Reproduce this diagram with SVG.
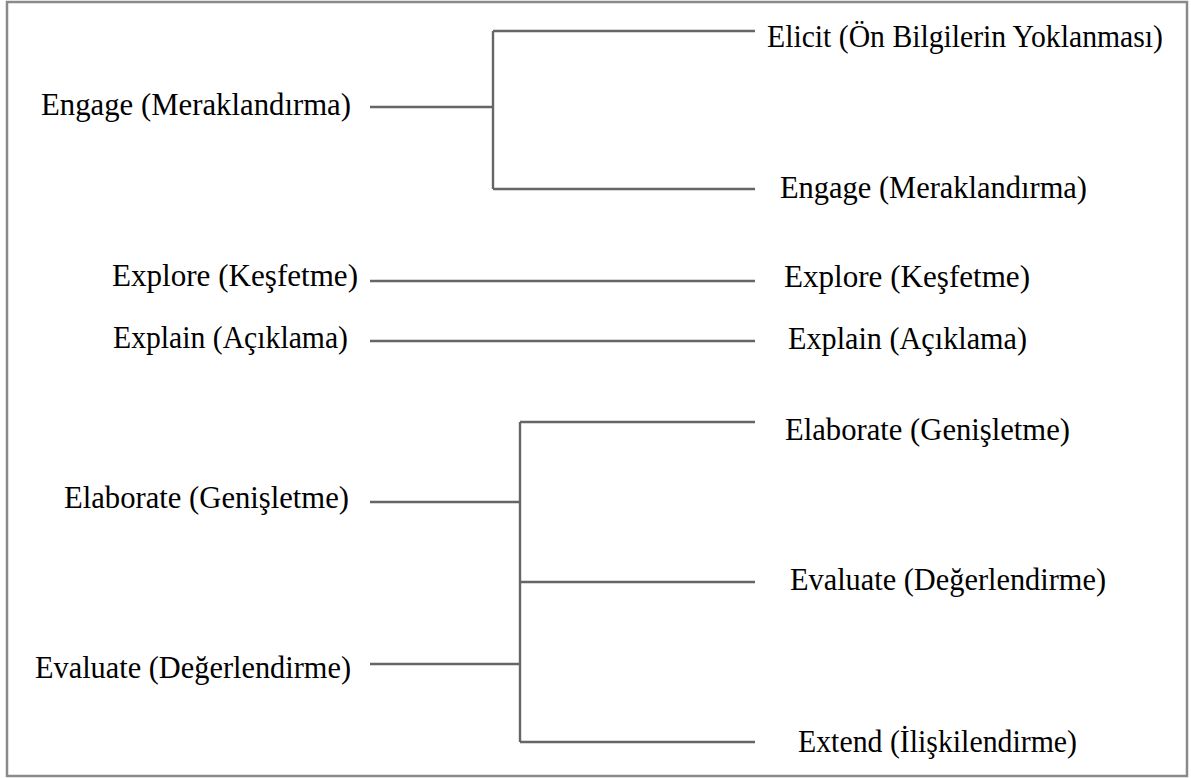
<svg xmlns="http://www.w3.org/2000/svg" width="1191" height="778" viewBox="0 0 1191 778">
<style>
.t{font-family:"Liberation Serif","Times New Roman",serif;font-size:32px;fill:#000}
.c{stroke:#666;stroke-width:2.4;fill:none}
</style>
<rect x="0" y="0" width="1191" height="778" fill="#fff"/>
<rect id="frame" x="7" y="2" width="1180" height="774" fill="none" stroke="#8a8a8a" stroke-width="2.5"/>
<g id="connectors">
<path class="c" d="M370 107H493M493 31V189M493 31H755M493 189H755"/>
<path class="c" d="M370 281H755"/>
<path class="c" d="M370 341H755"/>
<path class="c" d="M370 502H520M370 664H520M520 422V742M520 422H755M520 582H755M520 742H755"/>
</g>
<g id="l-engage"><text class="t" x="41" y="115" textLength="310" lengthAdjust="spacingAndGlyphs">Engage (Meraklandırma)</text></g>
<g id="l-explore"><text class="t" x="112" y="286" textLength="246" lengthAdjust="spacingAndGlyphs">Explore (Keşfetme)</text></g>
<g id="l-explain"><text class="t" x="113" y="348" textLength="235" lengthAdjust="spacingAndGlyphs">Explain (Açıklama)</text></g>
<g id="l-elaborate"><text class="t" x="64" y="508" textLength="285" lengthAdjust="spacingAndGlyphs">Elaborate (Genişletme)</text></g>
<g id="l-evaluate"><text class="t" x="35" y="678" textLength="316" lengthAdjust="spacingAndGlyphs">Evaluate (Değerlendirme)</text></g>
<g id="r-elicit"><text class="t" x="767" y="47" style="font-size:31px" textLength="396" lengthAdjust="spacingAndGlyphs">Elicit (Ön Bilgilerin Yoklanması)</text></g>
<g id="r-engage"><text class="t" x="780" y="198" textLength="307" lengthAdjust="spacingAndGlyphs">Engage (Meraklandırma)</text></g>
<g id="r-explore"><text class="t" x="784" y="287" textLength="246" lengthAdjust="spacingAndGlyphs">Explore (Keşfetme)</text></g>
<g id="r-explain"><text class="t" x="788" y="349" textLength="239" lengthAdjust="spacingAndGlyphs">Explain (Açıklama)</text></g>
<g id="r-elaborate"><text class="t" x="785" y="440" textLength="285" lengthAdjust="spacingAndGlyphs">Elaborate (Genişletme)</text></g>
<g id="r-evaluate"><text class="t" x="790" y="590" textLength="316" lengthAdjust="spacingAndGlyphs">Evaluate (Değerlendirme)</text></g>
<g id="r-extend"><text class="t" x="798" y="752" textLength="279" lengthAdjust="spacingAndGlyphs">Extend (İlişkilendirme)</text></g>
</svg>
